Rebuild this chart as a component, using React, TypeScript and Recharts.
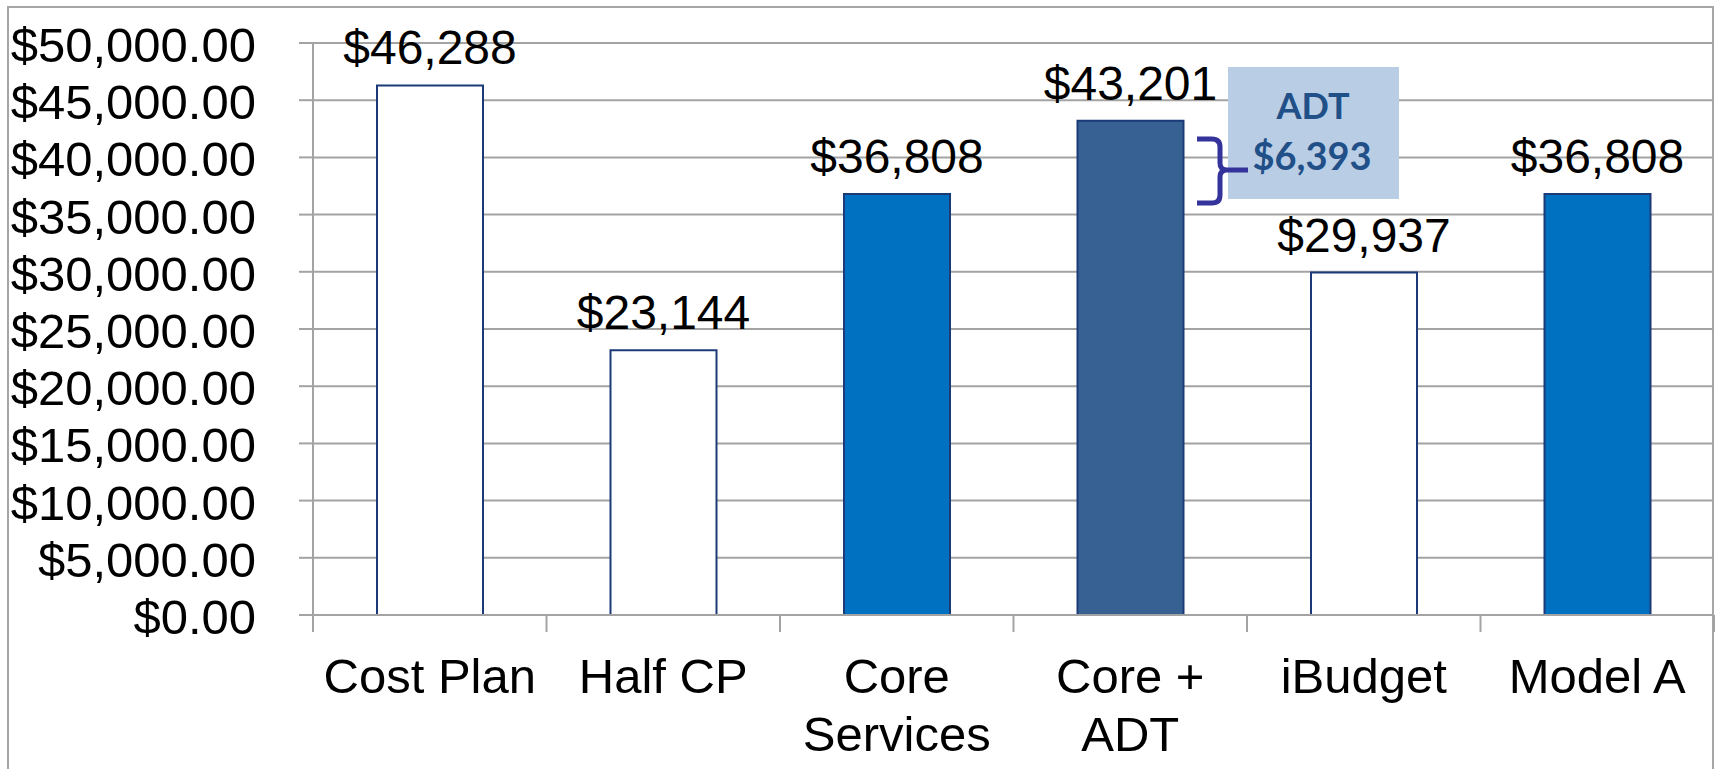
import { BarChart, Bar, XAxis, YAxis, CartesianGrid, Cell, LabelList } from 'recharts';

const CATEGORIES = ['Cost Plan', 'Half CP', 'Core\nServices', 'Core +\nADT', 'iBudget', 'Model A'];
const COSTS = [46288, 23144, 36808, 43201, 29937, 36808];
const Y_TICKS = [0, 5000, 10000, 15000, 20000, 25000, 30000, 35000, 40000, 45000, 50000];
const ADT_LABEL = 'ADT';
const ADT_WITH = 43201;
const ADT_WITHOUT = 36808;

const WIDTH = 1715;
const HEIGHT = 769;
const PLOT_LEFT = 313;
const MARGIN_RIGHT = 1;
const BAND = (WIDTH - PLOT_LEFT - MARGIN_RIGHT) / CATEGORIES.length;

const FONT = "'Liberation Sans', Arial, sans-serif";
const CALLOUT_FONT = "Lato, 'Open Sans', sans-serif";
const GRID = '#a3a3a3';
const NAVY = '#1c3a78';

// white outline bars vs solid blue ones
const BAR_STYLES = [
  { fill: '#ffffff' },
  { fill: '#ffffff' },
  { fill: '#0070c0' },
  { fill: '#376192' },
  { fill: '#ffffff' },
  { fill: '#0070c0' },
];

const data = CATEGORIES.map((name, i) => ({ name, cost: COSTS[i] }));

const money = (v: number, digits = 0) =>
  '$' + v.toLocaleString('en-US', { minimumFractionDigits: digits, maximumFractionDigits: digits });

function ValueTick({ x, y, payload }: any) {
  return (
    <text x={x} y={y} dy={19} textAnchor="end" fontSize={49} fontFamily={FONT} fill="#000">
      {money(payload.value, 2)}
    </text>
  );
}

function CategoryTick({ x, y, payload, index }: any) {
  const lines = String(payload.value).split('\n');
  const half = BAND / 2;
  return (
    <g>
      <line x1={x - half} x2={x - half} y1={y} y2={y + 17} stroke={GRID} strokeWidth={2} />
      {index === CATEGORIES.length - 1 && (
        <line x1={x + half} x2={x + half} y1={y} y2={y + 17} stroke={GRID} strokeWidth={2} />
      )}
      <text x={x} y={y + 78} textAnchor="middle" fontSize={49} fontFamily={FONT} fill="#000">
        {lines.map((l, i) => (
          <tspan key={i} x={x} dy={i === 0 ? 0 : 58}>{l}</tspan>
        ))}
      </text>
    </g>
  );
}

function BarValue(props: any) {
  const { x, y, width, value } = props;
  return (
    <text x={x + width / 2} y={y - 21} textAnchor="middle" fontSize={48} fontFamily={FONT} fill="#000">
      {money(value)}
    </text>
  );
}

export default function App() {
  return (
    <div style={{ position: 'absolute', left: 0, top: 0, width: WIDTH, height: HEIGHT, overflow: 'hidden', background: '#fff' }}>
      <div
        style={{
          position: 'absolute', left: 7, top: 6, width: 1707, height: 800,
          border: '2px solid #a6a6a6', boxSizing: 'border-box',
        }}
      />
      <div style={{ position: 'absolute', left: 0, top: 0 }}>
        <BarChart
          width={WIDTH}
          height={HEIGHT}
          data={data}
          margin={{ top: 43, right: MARGIN_RIGHT, bottom: 0, left: 0 }}
          barSize={106}
        >
          <CartesianGrid vertical={false} stroke={GRID} strokeWidth={2} />
          <XAxis
            dataKey="name"
            interval={0}
            height={154}
            tickSize={0}
            tickMargin={0}
            tickLine={false}
            axisLine={{ stroke: GRID, strokeWidth: 2 }}
            tick={<CategoryTick />}
          />
          <YAxis
            type="number"
            domain={[0, 50000]}
            ticks={Y_TICKS}
            interval={0}
            width={PLOT_LEFT}
            tickSize={14}
            tickMargin={43}
            tickLine={{ stroke: GRID, strokeWidth: 2 }}
            axisLine={{ stroke: GRID, strokeWidth: 2 }}
            tick={<ValueTick />}
          />
          <Bar dataKey="cost" isAnimationActive={false} stroke={NAVY} strokeWidth={2}>
            {data.map((d, i) => (
              <Cell key={d.name} fill={BAR_STYLES[i].fill} />
            ))}
            <LabelList dataKey="cost" content={<BarValue />} />
          </Bar>
        </BarChart>
      </div>
      {/* ADT call-out */}
      <svg width={WIDTH} height={HEIGHT} style={{ position: 'absolute', left: 0, top: 0, pointerEvents: 'none' }}>
        <rect x={1228} y={67} width={171} height={132} fill="#b9cde5" />
        <text x={1313} y={119} textAnchor="middle" fontSize={36} fontWeight="bold" fontFamily={CALLOUT_FONT} fill="#214f87">
          {ADT_LABEL}
        </text>
        <text x={1312} y={170} textAnchor="middle" fontSize={38} fontWeight="bold" fontFamily={CALLOUT_FONT} fill="#214f87">
          {money(ADT_WITH - ADT_WITHOUT)}
        </text>
        <path
          d="M1197,139 L1212,139 Q1220,139 1220,147 L1220,163 Q1220,170 1227,170 L1248,170 M1227,170 Q1220,170 1220,177 L1220,195 Q1220,203 1212,203 L1197,203"
          fill="none"
          stroke="#34339c"
          strokeWidth={5}
        />
      </svg>
    </div>
  );
}
